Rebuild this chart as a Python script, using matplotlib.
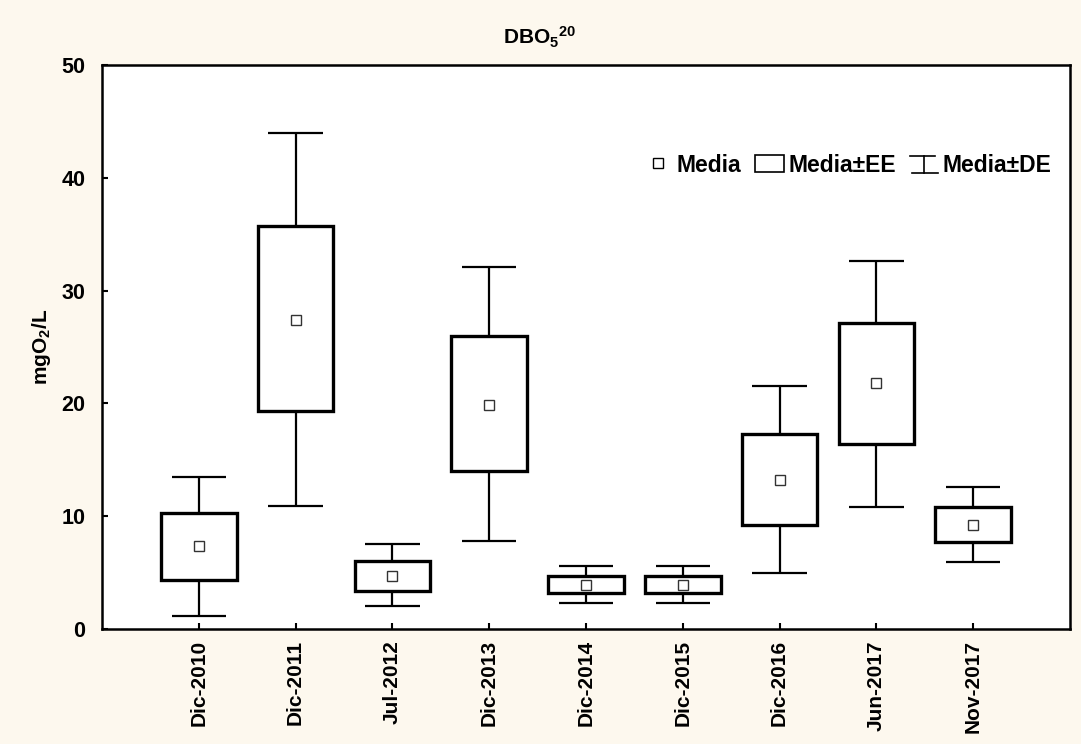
import matplotlib
matplotlib.use('Agg')
import matplotlib.pyplot as plt
from matplotlib.patches import Rectangle
from matplotlib.lines import Line2D
from matplotlib.legend_handler import HandlerBase

plt.rcParams['font.family'] = ['Liberation Sans', 'DejaVu Sans']
plt.rcParams['mathtext.fontset'] = 'custom'
plt.rcParams['mathtext.rm'] = 'Liberation Sans'
plt.rcParams['mathtext.bf'] = 'Liberation Sans:bold'
plt.rcParams['mathtext.default'] = 'bf'

# data (mgO2/L)
fechas = ['Dic-2010', 'Dic-2011', 'Jul-2012', 'Dic-2013', 'Dic-2014',
          'Dic-2015', 'Dic-2016', 'Jun-2017', 'Nov-2017']
media = [7.35, 27.4, 4.7, 19.9, 3.9, 3.9, 13.2, 21.8, 9.2]
ee_low = [4.3, 19.3, 3.4, 14.0, 3.2, 3.2, 9.2, 16.4, 7.7]
ee_high = [10.3, 35.7, 6.0, 26.0, 4.7, 4.7, 17.3, 27.1, 10.8]
de_low = [1.15, 10.9, 2.0, 7.8, 2.3, 2.3, 5.0, 10.8, 5.9]
de_high = [13.5, 44.0, 7.5, 32.1, 5.6, 5.6, 21.5, 32.6, 12.6]

BG = '#fdf8ee'
BOX_W = 0.78
CAP_W = 0.56


class HandlerDE(HandlerBase):
    """Draws the I-beam glyph used for Media±DE."""
    def create_artists(self, legend, orig_handle, xdescent, ydescent,
                       width, height, fontsize, trans):
        cx = width / 2 - xdescent
        y0 = -ydescent - 0.1 * height
        y1 = -ydescent + 0.95 * height
        top = Line2D([0, width - 2], [y1, y1], color='black', lw=1.2, transform=trans)
        bot = Line2D([2, width], [y0, y0], color='black', lw=1.2, transform=trans)
        mid = Line2D([cx, cx], [y0, y1], color='black', lw=1.2, transform=trans)
        return [top, bot, mid]


fig = plt.figure(figsize=(10.81, 7.44), dpi=100, facecolor=BG)
ax = fig.add_axes([102 / 1081, 1 - 629 / 744, (1070 - 102) / 1081, (629 - 65) / 744])
ax.set_facecolor('white')

for i in range(len(fechas)):
    ax.vlines(i, de_low[i], de_high[i], color='black', lw=1.6, zorder=2)
    ax.hlines([de_low[i], de_high[i]], i - CAP_W / 2, i + CAP_W / 2,
              color='black', lw=1.6, zorder=2)
    box = Rectangle((i - BOX_W / 2, ee_low[i]), BOX_W, ee_high[i] - ee_low[i],
                    facecolor='white', edgecolor='black', lw=2.4, zorder=3)
    ax.add_patch(box)

ax.plot(range(len(fechas)), media, ls='none', marker='s', ms=6.5,
        mfc='white', mec='#333333', mew=1.0, zorder=4)

ax.set_xlim(-1, 9)
ax.set_ylim(0, 50)
ax.set_xticks(range(len(fechas)))
ax.set_xticklabels(fechas, rotation=90, fontsize=15, fontweight='bold')
ax.set_yticks([0, 10, 20, 30, 40, 50])
ax.set_yticklabels(['0', '10', '20', '30', '40', '50'], fontsize=15.5, fontweight='bold')
ax.tick_params(direction='in', length=4, width=1.5, pad=8)
ax.tick_params(axis='y', pad=12)
for s in ax.spines.values():
    s.set_linewidth(1.8)

ax.set_ylabel('mgO$_2$/L', fontsize=15, fontweight='bold', labelpad=6)
fig.text(540 / 1081, 1 - 37 / 744, 'DBO$_5$$^{20}$', ha='center', va='center',
         fontsize=15, fontweight='bold')

h_media = Line2D([], [], ls='none', marker='s', ms=6.5, mfc='white', mec='black', mew=1.0)
h_ee = Rectangle((0, 0), 1, 1, facecolor='white', edgecolor='black', lw=1.2)
h_de = object()
leg = ax.legend([h_media, h_ee, h_de], ['Media', 'Media±EE', 'Media±DE'],
                handler_map={h_de.__class__: HandlerDE()},
                ncol=3, frameon=False, loc='center right',
                bbox_to_anchor=(1.0, (629 - 165) / 564),
                prop={'weight': 'bold', 'size': 16.5},
                handlelength=1.25, handletextpad=0.2, columnspacing=0.6,
                borderaxespad=0.4)

fig.savefig('out.png', dpi=100, facecolor=BG)
